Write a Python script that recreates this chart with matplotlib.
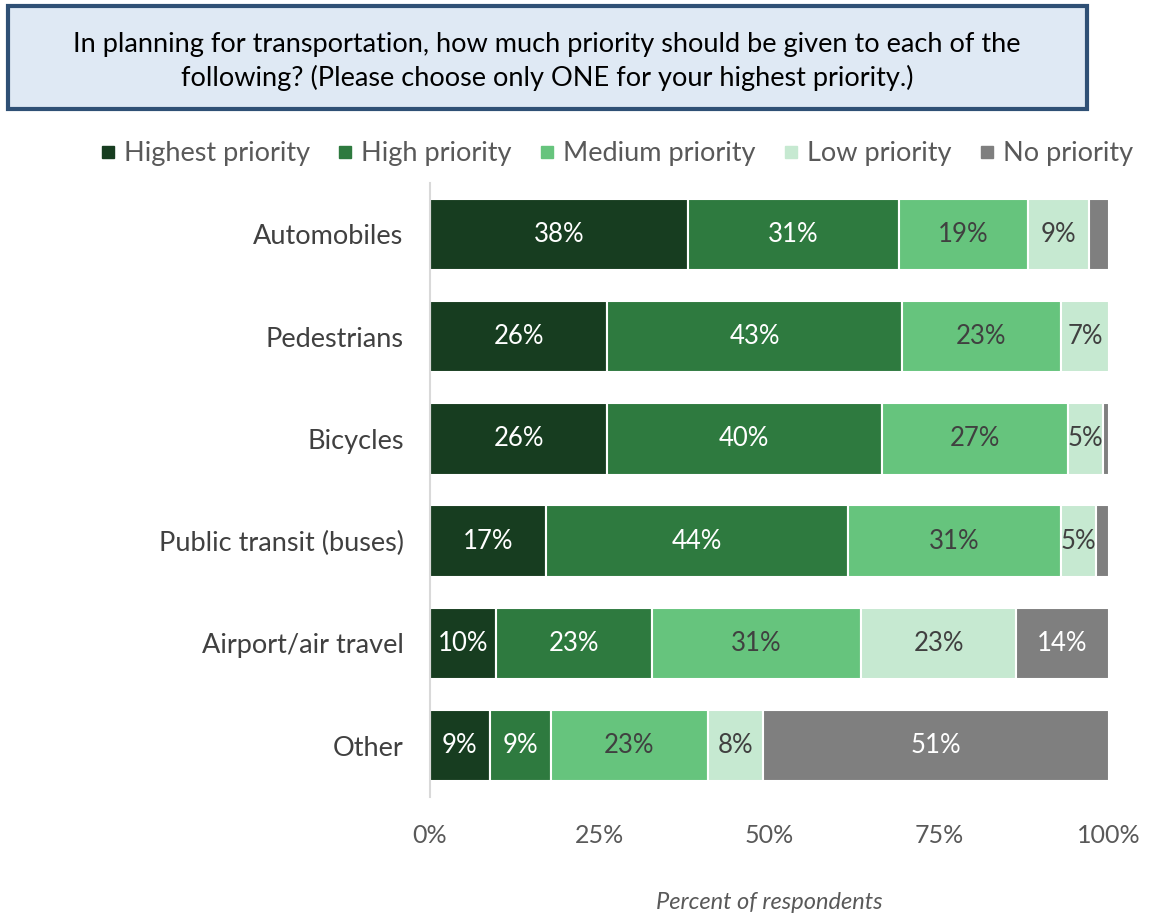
import matplotlib
matplotlib.use("Agg")
import matplotlib.pyplot as plt
from matplotlib.patches import FancyBboxPatch
from matplotlib.lines import Line2D

categories = ["Automobiles", "Pedestrians", "Bicycles", "Public transit (buses)",
              "Airport/air travel", "Other"]
series_names = ["Highest priority", "High priority", "Medium priority",
                "Low priority", "No priority"]
highest = [38.0, 26.1, 26.1, 17.1, 9.7, 8.8]
high = [31.0, 43.4, 40.4, 44.4, 23.0, 9.0]
medium = [19.0, 23.4, 27.4, 31.4, 30.8, 23.1]
low = [9.0, 7.1, 5.2, 5.2, 22.8, 8.1]
none_ = [3.0, 0.0, 0.9, 1.9, 13.7, 51.0]
xtick_labels = ["0%", "25%", "50%", "75%", "100%"]
xticks = [0, 25, 50, 75, 100]

colors = ["#173d20", "#2e7a3f", "#66c47d", "#c6e9d1", "#7f7f7f"]
text_colors = ["white", "white", "#404040", "#404040", "white"]

plt.rcParams['font.family'] = ['Lato', 'DejaVu Sans']

fig = plt.figure(figsize=(11.51, 9.16), dpi=100)
ax = fig.add_axes([430/1151, 1-796.6/916, (1109-430)/1151, (796.6-183.4)/916])

series = [highest, high, medium, low, none_]
y = list(range(len(categories)))
left = [0.0]*len(categories)
for s, vals in enumerate(series):
    ax.barh(y, vals, left=left, height=0.70, color=colors[s],
            edgecolor="white", linewidth=1.5)
    for i, v in enumerate(vals):
        if v >= 4:
            ax.text(left[i] + v/2, y[i], f"{round(v):d}%", ha="center", va="center",
                    fontsize=18.5, color=text_colors[s])
    left = [l + v for l, v in zip(left, vals)]

ax.set_xlim(0, 100)
ax.set_ylim(5.5, -0.5)
ax.set_yticks(y)
ax.set_yticklabels(categories, fontsize=19.5, color="#404040")
ax.set_xticks(xticks)
ax.set_xticklabels(xtick_labels, fontsize=18, color="#595959")
ax.tick_params(axis="both", length=0)
ax.tick_params(axis="x", pad=20)
ax.tick_params(axis="y", pad=19)
for sp in ["top", "right", "bottom"]:
    ax.spines[sp].set_visible(False)
ax.spines["left"].set_color("#d9d9d9")
ax.spines["left"].set_linewidth(1.5)
ax.set_xlabel("Percent of respondents", fontsize=17, style="italic",
              color="#595959", labelpad=32)

# Title box
box = FancyBboxPatch((8/1151, 1-109/916), (1087-8)/1151, (109-6)/916,
                     boxstyle="square,pad=0", transform=fig.transFigure,
                     facecolor="#dfe9f4", edgecolor="#2f5075", linewidth=3)
fig.patches.append(box)
fig.text(547/1151, 1-61.5/916,
         "In planning for transportation, how much priority should be given to each of the\nfollowing? (Please choose only ONE for your highest priority.)",
         ha="center", va="center", fontsize=19.5, color="black", linespacing=1.4)

handles = [Line2D([0], [0], marker="s", linestyle="none", markersize=9,
                  markerfacecolor=c, markeredgecolor=c) for c in colors]
fig.legend(handles, series_names, loc="center", bbox_to_anchor=(616.5/1151, 1-154/916),
           ncol=5, frameon=False, fontsize=19.5, handlelength=0.6, handletextpad=0.3,
           columnspacing=1.0, labelcolor="#595959")

fig.savefig("out.png", dpi=100)
